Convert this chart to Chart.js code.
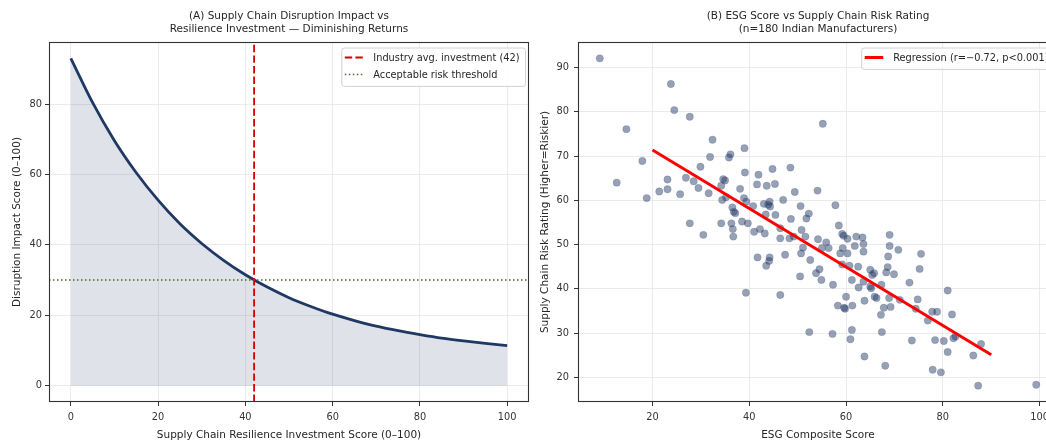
<!DOCTYPE html>
<html><head><meta charset="utf-8">
<script src="https://cdn.jsdelivr.net/npm/chart.js@4.4.0/dist/chart.umd.min.js"></script>
<style>
html,body{margin:0;padding:0;background:#fff;overflow:hidden;}
#wrap{position:relative;width:1046px;height:443px;overflow:hidden;background:#fff;}
canvas{position:absolute;top:0;}
#c1{left:0;}
#c2{left:523px;}
</style></head><body>
<div id="wrap"><canvas id="c1" width="540" height="443"></canvas><canvas id="c2" width="545" height="443"></canvas></div>
<script>
// ---------- Panel A data ----------
const investX  = [0,5,10,15,20,25,30,35,40,45,50,55,60,65,70,75,80,85,90,95,100];
const impactY  = [93.0,80.4,69.6,60.5,52.7,46.0,40.4,35.6,31.5,28.0,25.0,22.5,20.3,18.5,16.9,15.6,14.5,13.5,12.7,12.0,11.4];
const avgInvestment = 42;
const riskThreshold = 30;
const xTicksA = [0,20,40,60,80,100];
const yTicksA = [0,20,40,60,80];
const titleA = ['(A) Supply Chain Disruption Impact vs', 'Resilience Investment \u2014 Diminishing Returns'];
const legendA = ['Industry avg. investment (42)', 'Acceptable risk threshold'];

// ---------- Panel B data ----------
const esgScores = [
 9.1,23.8,24.5,27.7,14.6,32.4,39.0,36.1,35.8,31.9,17.9,29.9,39.1,41.9,41.6,43.6,12.6,23.1,26.9,28.5,
 34.6,35.0,34.2,29.5,38.1,23.1,21.4,18.8,25.7,31.6,34.4,35.2,38.9,39.4,40.8,36.5,36.8,37.1,43.0,
 27.7,34.2,36.3,36.6,38.5,39.7,30.5,36.7,41.0,42.2,43.2,41.7,43.5,39.3,
 55.2,44.8,48.5,45.3,49.4,54.1,47.0,44.2,43.9,44.3,50.6,57.8,43.4,45.4,52.3,51.8,48.6,
 46.4,50.8,51.6,46.4,48.3,49.2,54.2,55.9,58.5,59.2,59.5,60.3,62.1,63.4,63.6,69.0,69.0,70.8,75.5,
 51.1,50.7,55.0,56.4,59.3,58.8,60.3,61.8,63.6,47.4,44.2,44.1,52.6,59.2,60.7,68.7,75.2,68.6,62.5,
 54.5,53.8,50.5,54.9,65.0,65.8,65.4,68.3,69.9,67.3,63.6,61.2,57.3,62.6,65.0,65.2,73.1,81.0,46.4,
 60.0,65.9,66.3,63.8,68.9,71.1,74.8,58.3,59.6,59.8,61.3,67.8,69.2,74.4,67.2,77.8,78.8,76.9,81.9,
 52.4,57.2,61.2,60.9,67.4,73.6,78.4,80.2,81.0,63.8,68.1,77.9,79.6,
 82.2,82.6,86.3,87.9,87.3,99.3
];
const riskRatings = [
 92.1,86.3,80.4,78.9,76.1,73.7,71.8,70.4,69.7,69.8,68.9,67.6,66.3,65.8,63.6,63.3,64.0,64.7,65.1,64.3,
 64.8,64.5,63.3,62.8,62.6,62.5,62.0,60.5,61.4,61.6,60.1,60.7,60.5,59.7,58.7,58.4,57.4,57.1,59.2,
 54.8,54.8,54.8,53.5,55.2,54.8,52.2,51.8,52.9,53.5,52.5,47.1,45.2,39.1,
 77.3,67.1,67.4,63.7,61.9,62.2,60.1,59.7,59.0,58.6,58.7,58.9,56.8,56.7,57.0,55.9,55.8,
 53.7,53.3,51.8,51.4,51.4,51.8,51.2,50.5,54.3,52.4,52.0,51.3,51.8,51.6,50.1,52.2,49.7,48.8,47.9,
 49.3,48.0,49.2,49.2,49.2,48.0,48.0,49.7,48.4,47.7,47.1,46.3,46.5,45.5,45.2,47.3,44.5,44.9,45.0,
 44.4,43.5,42.8,42.0,44.3,43.5,43.1,43.7,43.3,40.9,41.6,42.0,40.9,40.3,40.5,40.1,41.4,39.6,38.6,
 38.2,38.2,37.9,37.3,37.9,37.5,37.6,36.2,35.7,35.5,36.2,35.7,35.9,35.5,34.1,34.8,34.8,32.8,34.2,
 30.2,29.8,30.7,28.6,30.2,28.3,28.4,28.2,25.7,24.7,22.6,21.7,21.1,
 28.8,29.2,24.9,27.5,18.1,18.3
];
const regX = [20, 90];
const regY = [71.4, 25.1];
const xTicksB = [20,40,60,80,100];
const yTicksB = [20,30,40,50,60,70,80,90];
const titleB = ['(B) ESG Score vs Supply Chain Risk Rating', '(n=180 Indian Manufacturers)'];
const legendB = ['Regression (r=\u22120.72, p<0.001)'];

// ---------- styling ----------
const F = "'DejaVu Sans', 'Liberation Sans', sans-serif";
Chart.defaults.font.family = F;
Chart.defaults.animation = false;
const GRID = '#e6e6e6', TXT = '#262626', TICK = '#333333';
const NAVY = '#1f3864';

const framePlugin = {
  id: 'frameLegend',
  afterDatasetsDraw(chart, args, opts) {
    const {ctx, chartArea: a} = chart;
    ctx.save();
    ctx.strokeStyle = '#333333';
    ctx.lineWidth = 1.1;
    ctx.strokeRect(Math.round(a.left) + 0.5, Math.round(a.top) + 0.5,
                   Math.round(a.right - a.left) - 1, Math.round(a.bottom - a.top) - 1);
    // legend
    const items = opts.items || [];
    if (items.length) {
      ctx.font = '9.8px ' + F;
      let maxW = 0;
      items.forEach(it => { maxW = Math.max(maxW, ctx.measureText(it.label).width); });
      const w = 3.5 + 18.5 + 10 + maxW + 5.5;
      const h = 4.4 + 17 * items.length;
      const right = a.right - 4, top = a.top + 5.5;
      const x = right - w;
      ctx.beginPath();
      if (ctx.roundRect) ctx.roundRect(x + 0.5, top + 0.5, w, h, 2.5); else ctx.rect(x + 0.5, top + 0.5, w, h);
      ctx.fillStyle = 'rgba(255,255,255,0.85)';
      ctx.fill();
      ctx.strokeStyle = '#d2d2d2';
      ctx.lineWidth = 1;
      ctx.stroke();
      items.forEach((it, i) => {
        const cy = top + 10 + 17 * i;
        ctx.beginPath();
        ctx.setLineDash(it.dash || []);
        ctx.strokeStyle = it.color;
        ctx.lineWidth = it.width;
        ctx.lineCap = 'butt';
        ctx.moveTo(x + 3.5, cy);
        ctx.lineTo(x + 22, cy);
        ctx.stroke();
        ctx.setLineDash([]);
        ctx.fillStyle = TXT;
        ctx.textBaseline = 'middle';
        ctx.textAlign = 'left';
        ctx.fillText(it.label, x + 32, cy + 0.5);
      });
    }
    ctx.restore();
  }
};

function axis(opts) {
  return {
    type: 'linear', min: opts.min, max: opts.max,
    afterBuildTicks: s => { s.ticks = opts.ticks.map(v => ({value: v})); },
    afterFit: s => { if (opts.w !== undefined) s.width = opts.w; if (opts.h !== undefined) s.height = opts.h; },
    grid: {color: GRID, lineWidth: 0.8, tickColor: TICK, tickLength: 4, tickWidth: 1, drawTicks: true},
    border: {display: false},
    ticks: {color: TICK, font: {family: F, size: 9.8}, padding: opts.pad, maxRotation: 0, autoSkip: false},
    title: {display: true, text: opts.title, color: TXT, font: {family: F, size: 10.5}, padding: opts.tpad}
  };
}

// ---------- Panel A ----------
const yMinA = -4.65, yMaxA = 97.65, xMinA = -5, xMaxA = 105;
new Chart(document.getElementById('c1'), {
  type: 'line',
  data: {
    datasets: [
      {data: investX.map((x, i) => ({x, y: impactY[i]})), borderColor: NAVY, borderWidth: 2.8,
       backgroundColor: 'rgba(31,56,100,0.14)', fill: {value: 0}, pointRadius: 0,
       cubicInterpolationMode: 'monotone', order: 3},
      {data: [{x: avgInvestment, y: yMinA}, {x: avgInvestment, y: yMaxA}], borderColor: '#d40000',
       borderWidth: 1.8, borderDash: [7.4, 3.2], pointRadius: 0, fill: false, order: 2},
      {data: [{x: xMinA, y: riskThreshold}, {x: xMaxA, y: riskThreshold}], borderColor: '#4d6b2c',
       borderWidth: 1.5, borderDash: [1.5, 2.5], pointRadius: 0, fill: false, order: 1}
    ]
  },
  options: {
    responsive: false, events: [],
    layout: {padding: {left: 0, right: 11, top: 0, bottom: 0}},
    scales: {
      x: axis({min: xMinA, max: xMaxA, ticks: xTicksA, h: 41, pad: 6,
               title: 'Supply Chain Resilience Investment Score (0\u2013100)', tpad: {top: 0, bottom: 1}}),
      y: axis({min: yMinA, max: yMaxA, ticks: yTicksA, w: 49, pad: 3,
               title: 'Disruption Impact Score (0\u2013100)', tpad: {top: 11, bottom: 0}})
    },
    plugins: {
      legend: {display: false}, tooltip: {enabled: false},
      title: {display: true, fullSize: false, text: titleA, color: TXT,
              font: {family: F, size: 10.5, weight: 'normal', lineHeight: 1.25},
              padding: {top: 9.5, bottom: 6.25}},
      frameLegend: {items: [
        {label: legendA[0], color: '#d40000', width: 1.8, dash: [7.4, 3.2]},
        {label: legendA[1], color: '#4d6b2c', width: 1.5, dash: [1.5, 2.5]}
      ]}
    }
  },
  plugins: [framePlugin]
});

// ---------- Panel B ----------
new Chart(document.getElementById('c2'), {
  type: 'scatter',
  data: {
    datasets: [
      {type: 'line', data: regX.map((x, i) => ({x, y: regY[i]})), borderColor: '#ff0000', borderWidth: 3,
       pointRadius: 0, fill: false, order: 1},
      {data: esgScores.map((x, i) => ({x, y: riskRatings[i]})), backgroundColor: 'rgba(31,56,100,0.47)',
       borderColor: 'rgba(31,56,100,0.25)', borderWidth: 0.6, pointRadius: 3.7, order: 2}
    ]
  },
  options: {
    responsive: false, events: [],
    layout: {padding: {left: 0, right: 10, top: 0, bottom: 0}},
    scales: {
      x: axis({min: 4.6, max: 103.8, ticks: xTicksB, h: 41, pad: 6,
               title: 'ESG Composite Score', tpad: {top: 0, bottom: 1}}),
      y: axis({min: 14.4, max: 95.8, ticks: yTicksB, w: 55, pad: 5,
               title: 'Supply Chain Risk Rating (Higher=Riskier)', tpad: {top: 16, bottom: 0}})
    },
    plugins: {
      legend: {display: false}, tooltip: {enabled: false},
      title: {display: true, fullSize: false, text: titleB, color: TXT,
              font: {family: F, size: 10.5, weight: 'normal', lineHeight: 1.25},
              padding: {top: 9.5, bottom: 6.25}},
      frameLegend: {items: [{label: legendB[0], color: '#ff0000', width: 3, dash: []}]}
    }
  },
  plugins: [framePlugin]
});
</script>
</body></html>
